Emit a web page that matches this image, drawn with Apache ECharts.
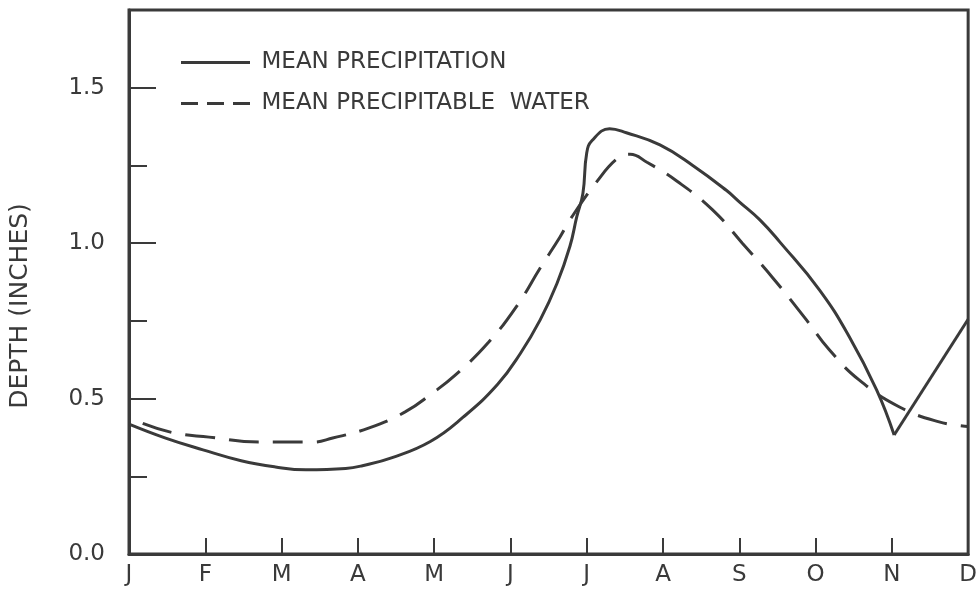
<!DOCTYPE html>
<html>
<head>
<meta charset="utf-8">
<script src="https://cdn.jsdelivr.net/npm/echarts@6/dist/echarts.min.js"></script>
<style>html,body{margin:0;padding:0;background:#fff}#c{width:980px;height:593px}</style>
</head>
<body>
<div id="c"></div>
<script>
var monthLabels = ['J','F','M','A','M','J','J','A','S','O','N','D'];
var yTickLabels = ['0.0','0.5','1.0','1.5'];
var seriesNames = ['MEAN PRECIPITATION', 'MEAN PRECIPITABLE  WATER'];

// Mean precipitation: [month position (0 = J), depth in inches]
var precipCurve = [
  [0.00,0.418],[0.48,0.373],[0.97,0.335],[1.47,0.300],[1.92,0.280],[2.32,0.271],
  [2.84,0.275],[3.06,0.284],[3.45,0.310],[3.95,0.362],[4.38,0.440],
  [4.83,0.545],[5.13,0.645],[5.39,0.753],[5.61,0.870],[5.78,0.990],[5.87,1.085],
  [5.95,1.160],[6.00,1.290],[6.07,1.330],[6.30,1.368],[6.52,1.355],[6.96,1.316],
  [7.39,1.250],[7.83,1.170],[8.00,1.133],[8.27,1.075],[8.53,1.004],[9.05,0.850],
  [9.44,0.700],[9.80,0.528],[10.03,0.383]
];
var precipTail = [[10.03,0.383],[11.00,0.755]];

// Mean precipitable water
var precipWater = [
  [0.18,0.420],[0.58,0.390],[1.05,0.376],[1.70,0.360],[2.40,0.360],[2.67,0.373],
  [3.14,0.405],[3.62,0.457],[3.98,0.518],[4.28,0.576],[4.71,0.680],[5.09,0.800],
  [5.39,0.920],[5.65,1.020],[5.78,1.075],[6.13,1.197],[6.41,1.274],[6.57,1.286],
  [6.79,1.260],[7.18,1.200],[7.65,1.107],[8.04,1.000],[8.44,0.888],[8.88,0.753],
  [9.18,0.657],[9.57,0.560],[10.10,0.473],[10.62,0.425],[11.00,0.410]
];

var ink = '#3a3a3a';
var font = 'DejaVu Sans';
var solidIcon = 'path://M0,0H69V3H0Z';
var dashIcon = 'path://M0,0H17V3H0ZM26,0H43V3H26ZM52,0H69V3H52Z';
var chart = echarts.init(document.getElementById('c'), null, {renderer:'canvas'});
chart.setOption({
  backgroundColor: '#fff',
  animation: false,
  grid: {left:128, right:11, top:10, bottom:39, show:true, borderColor:ink, borderWidth:3},
  legend: {
    orient:'vertical', left:176, top:46, itemWidth:70, itemHeight:3, itemGap:18,
    textStyle:{fontFamily:font, fontSize:23, color:ink, padding:[0,0,0,6]},
    itemStyle:{color:ink},
    data: [
      {name: seriesNames[0], icon: solidIcon},
      {name: seriesNames[1], icon: dashIcon}
    ]
  },
  xAxis: {
    type:'value', min:0, max:11, interval:1,
    axisLine:{show:true, lineStyle:{color:ink, width:3}},
    axisTick:{show:true, inside:true, length:16, lineStyle:{color:ink, width:2}},
    axisLabel:{fontFamily:font, fontSize:23, color:ink, margin:10,
      formatter:function(v){ return monthLabels[Math.round(v)] || ''; }},
    splitLine:{show:false}
  },
  yAxis: [{
    type:'value', min:0, max:1.75, interval:0.5,
    name:'DEPTH (INCHES)', nameLocation:'middle', nameGap:96,
    nameTextStyle:{fontFamily:font, fontSize:25, color:ink, padding:[0,48,0,0]},
    axisLine:{show:true, lineStyle:{color:ink, width:3}},
    axisTick:{show:true, inside:true, length:27, lineStyle:{color:ink, width:2}},
    axisLabel:{fontFamily:font, fontSize:23, color:ink, margin:24,
      formatter:function(v){ var i = Math.round(v/0.5); return Math.abs(v - i*0.5) < 1e-6 ? (yTickLabels[i] || '') : ''; }},
    splitLine:{show:false}
  },{
    type:'value', min:0, max:1.75, interval:0.25, position:'left',
    axisLine:{show:false},
    axisTick:{show:true, inside:true, length:18, lineStyle:{color:ink, width:2}},
    axisLabel:{show:false}, splitLine:{show:false}
  }],
  series: [{
    name: seriesNames[0], type:'line', data: precipCurve, symbol:'none',
    smooth:0.45,
    lineStyle:{color:ink, width:3}, itemStyle:{color:ink}
  },{
    name: seriesNames[0], type:'line', data: precipTail, symbol:'none',
    lineStyle:{color:ink, width:3}, itemStyle:{color:ink}
  },{
    name: seriesNames[1], type:'line', data: precipWater, symbol:'none',
    smooth:0.45,
    lineStyle:{color:ink, width:3, type:[30,14]}, itemStyle:{color:ink}
  }]
});
</script>
</body>
</html>
